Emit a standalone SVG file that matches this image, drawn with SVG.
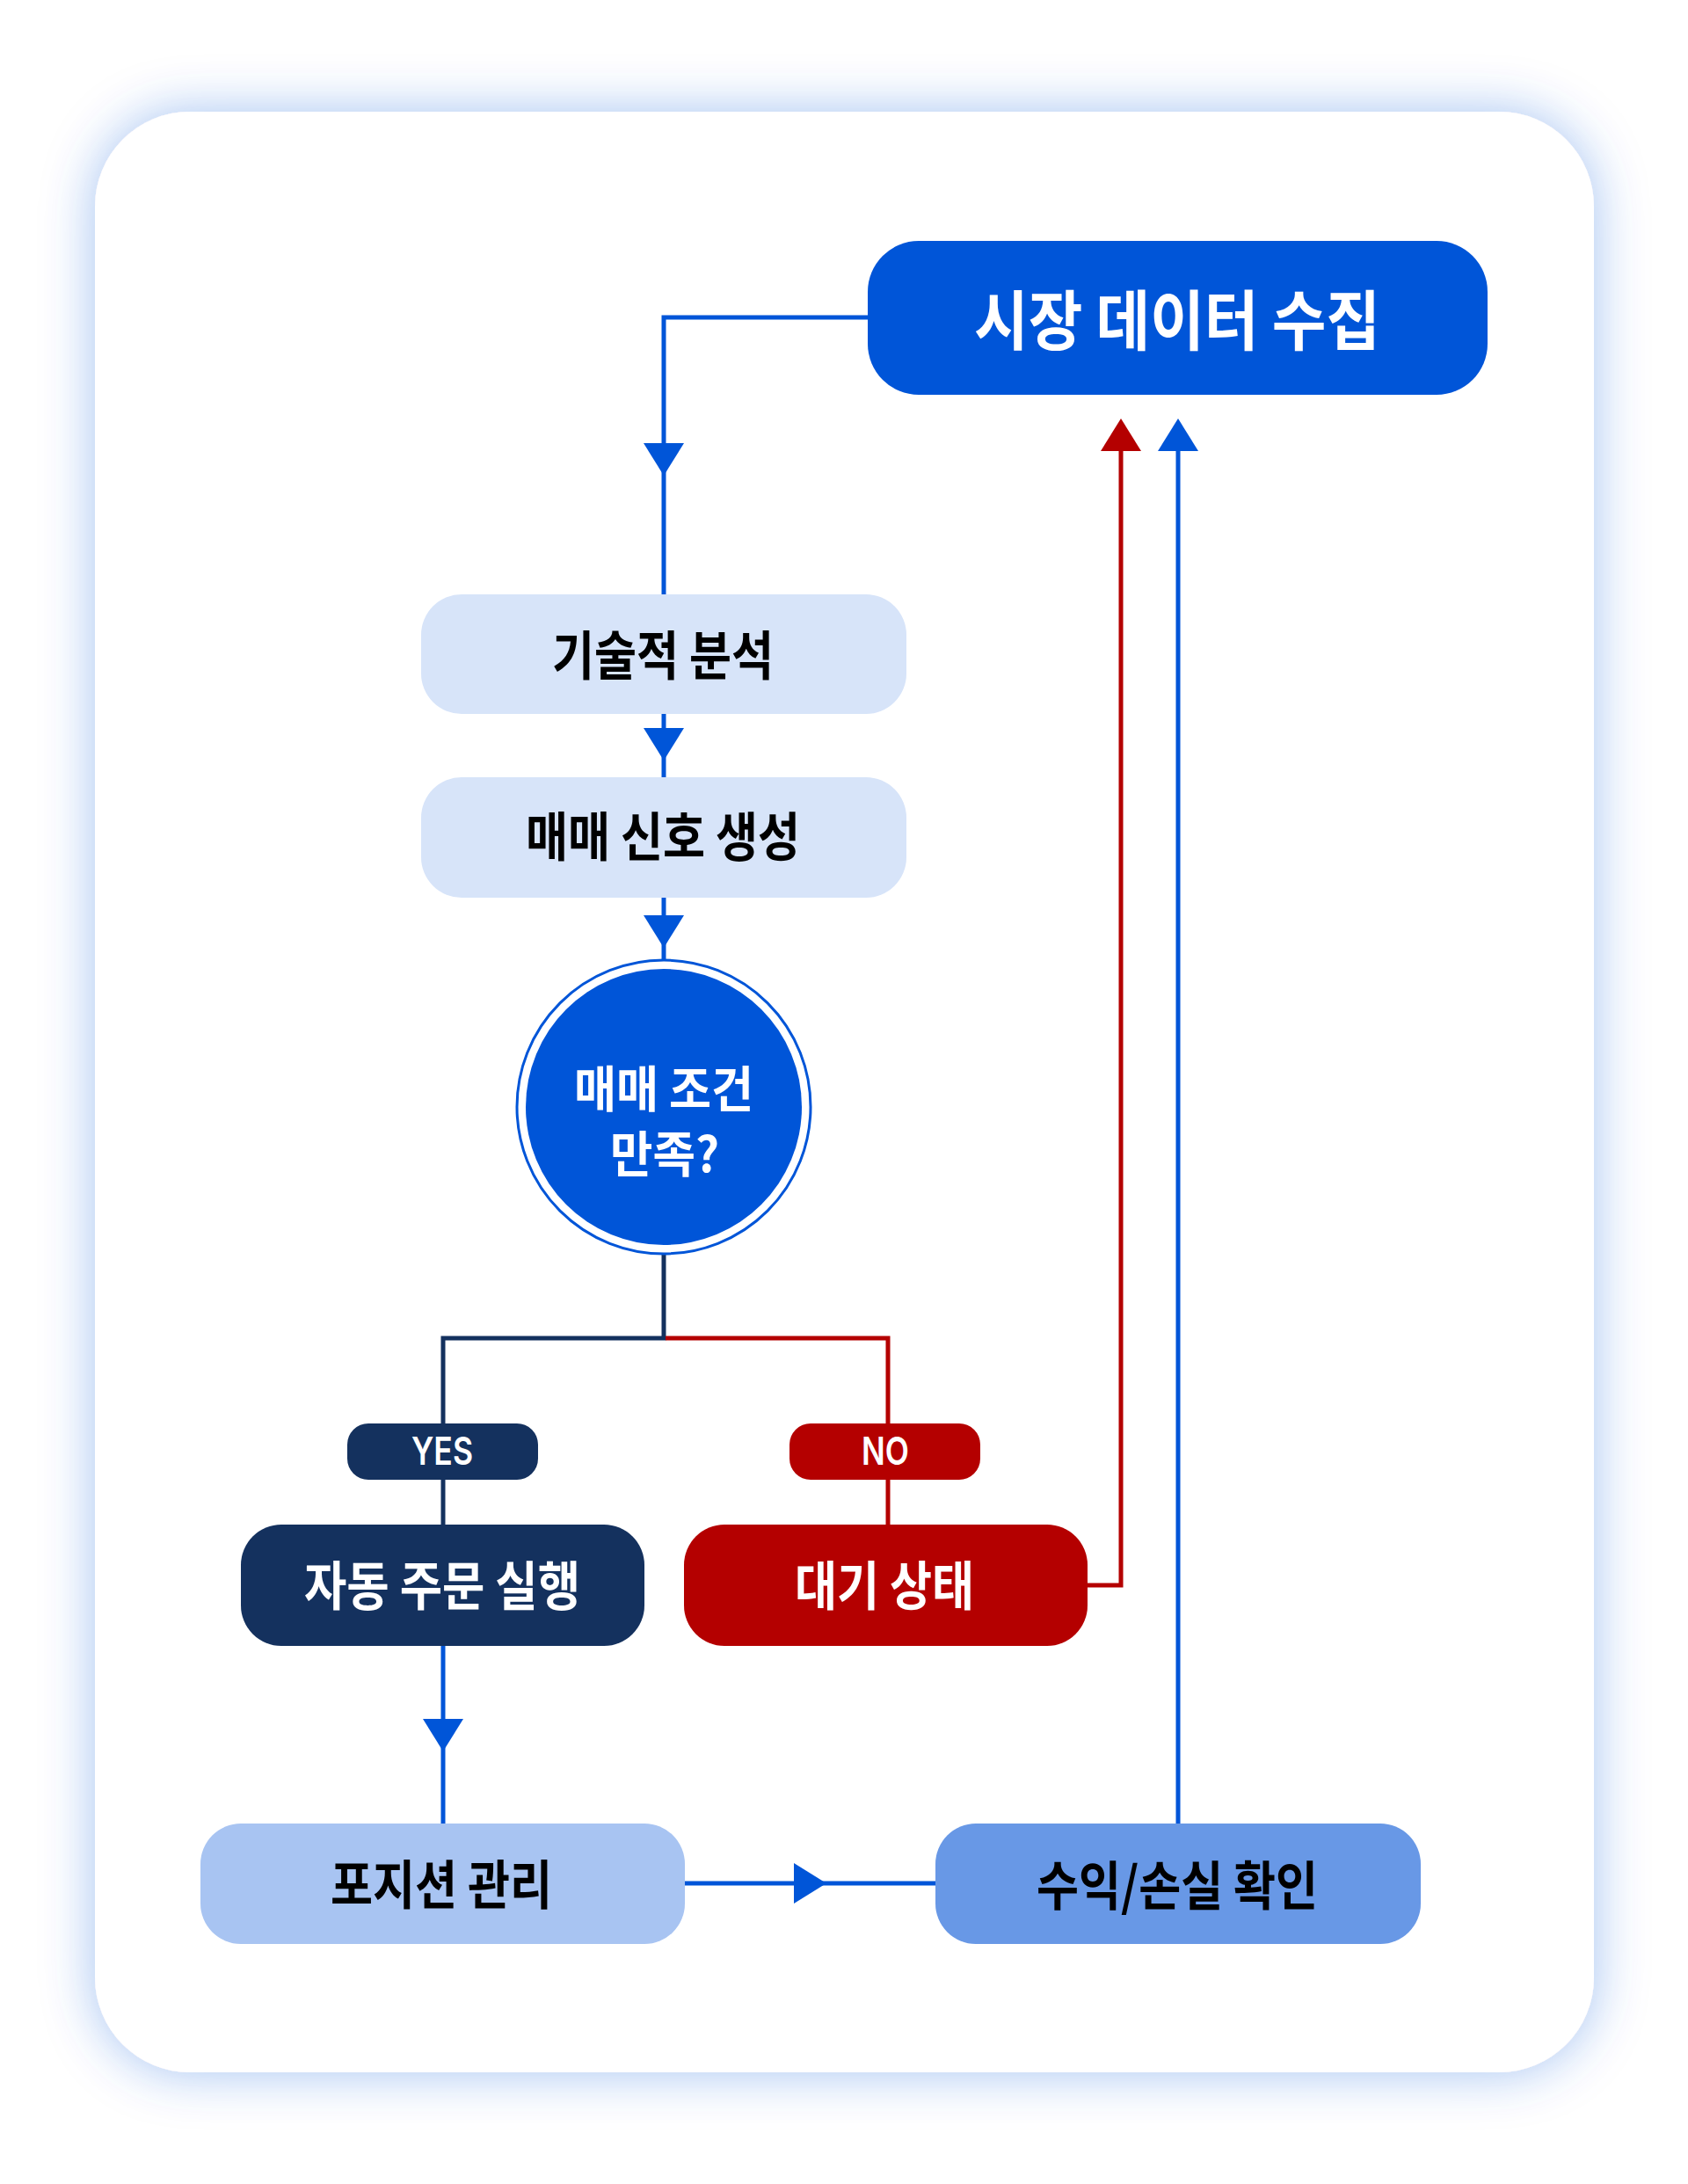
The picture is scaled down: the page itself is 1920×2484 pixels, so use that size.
<svg xmlns="http://www.w3.org/2000/svg" xmlns:xlink="http://www.w3.org/1999/xlink" width="1920" height="2484" viewBox="0 0 1920 2484">
  <style>
    .kr { font-family: "Noto Sans CJK KR", "Noto Sans", sans-serif; font-weight: 700; text-anchor: middle; }
    .en { font-family: Inter, "Liberation Sans", sans-serif; font-weight: 600; text-anchor: middle; fill: #ffffff; }
    .white { fill: #ffffff; }
    .dark { fill: #000000; }
    .conn { fill: none; stroke-width: 5; stroke-linejoin: miter; }
    .blue { stroke: #0055d8; }
    .navy { stroke: #14315e; }
    .red { stroke: #b40000; }
  </style>
  <defs>
    <filter id="glow" x="-20%" y="-20%" width="140%" height="140%">
      <feGaussianBlur in="SourceAlpha" stdDeviation="30" result="b"/>
      <feFlood flood-color="#0055d8" flood-opacity="0.36"/>
      <feComposite in2="b" operator="in" result="s"/>
      <feMerge>
        <feMergeNode in="s"/>
        <feMergeNode in="SourceGraphic"/>
      </feMerge>
    </filter>
    <path id="ah" d="M-23,-37 L23,-37 L0,0 Z"/>
  </defs>

  <rect width="1920" height="2484" fill="#ffffff"/>
  <rect id="card" x="108" y="127" width="1705" height="2230" rx="108" ry="108" fill="#ffffff" filter="url(#glow)"/>

  <g id="connectors">
    <path class="conn blue" d="M987,361 H755 V676"/>
    <use xlink:href="#ah" href="#ah" fill="#0055d8" transform="translate(755,541)"/>
    <path class="conn blue" d="M755,812 V884"/>
    <use xlink:href="#ah" href="#ah" fill="#0055d8" transform="translate(755,865)"/>
    <path class="conn blue" d="M755,1021 V1091"/>
    <use xlink:href="#ah" href="#ah" fill="#0055d8" transform="translate(755,1078)"/>

    <path class="conn navy" d="M755,1427 V1522 H504 V1619"/>
    <path class="conn navy" d="M504,1683 V1734"/>
    <path class="conn red" d="M757,1522 H1010 V1619"/>
    <path class="conn red" d="M1010,1683 V1734"/>

    <path class="conn red" d="M1237,1803 H1275 V510"/>
    <use xlink:href="#ah" href="#ah" fill="#b40000" transform="translate(1275,476) rotate(180)"/>
    <path class="conn blue" d="M1340,2074 V510"/>
    <use xlink:href="#ah" href="#ah" fill="#0055d8" transform="translate(1340,476) rotate(180)"/>

    <path class="conn blue" d="M504,1872 V2074"/>
    <use xlink:href="#ah" href="#ah" fill="#0055d8" transform="translate(504,1992)"/>
    <path class="conn blue" d="M779,2142 H1064"/>
    <use xlink:href="#ah" href="#ah" fill="#0055d8" transform="translate(940,2142) rotate(-90)"/>
  </g>

  <g id="node-collect">
    <rect x="987" y="274" width="705" height="175" rx="58" fill="#0055d8"/>
    <text class="kr white" x="1339" y="392" font-size="74" textLength="462" lengthAdjust="spacingAndGlyphs">시장 데이터 수집</text>
  </g>

  <g id="node-analysis">
    <rect x="479" y="676" width="552" height="136" rx="46" fill="#d7e4f9"/>
    <text class="kr dark" x="754" y="768" font-size="60" textLength="252" lengthAdjust="spacingAndGlyphs">기술적 분석</text>
  </g>

  <g id="node-signal">
    <rect x="479" y="884" width="552" height="137" rx="46" fill="#d7e4f9"/>
    <text class="kr dark" x="754" y="974" font-size="60" textLength="312" lengthAdjust="spacingAndGlyphs">매매 신호 생성</text>
  </g>

  <g id="node-decision">
    <circle cx="755" cy="1259" r="167" fill="#ffffff" stroke="#0055d8" stroke-width="3"/>
    <circle cx="755" cy="1259" r="157" fill="#0055d8"/>
    <text class="kr white" x="755" y="1259" font-size="56" textLength="204" lengthAdjust="spacingAndGlyphs">매매 조건</text>
    <text class="kr white" x="756" y="1333" font-size="56" textLength="124" lengthAdjust="spacingAndGlyphs">만족?</text>
  </g>

  <g id="label-yes">
    <rect x="395" y="1619" width="217" height="64" rx="24" fill="#14315e"/>
    <text class="en" x="503" y="1666" font-size="44" textLength="70" lengthAdjust="spacingAndGlyphs">YES</text>
  </g>

  <g id="label-no">
    <rect x="898" y="1619" width="217" height="64" rx="24" fill="#b40000"/>
    <text class="en" x="1007" y="1666" font-size="44" textLength="54" lengthAdjust="spacingAndGlyphs">NO</text>
  </g>

  <g id="node-execute">
    <rect x="274" y="1734" width="459" height="138" rx="46" fill="#14315e"/>
    <text class="kr white" x="503" y="1826" font-size="60" textLength="314" lengthAdjust="spacingAndGlyphs">자동 주문 실행</text>
  </g>

  <g id="node-wait">
    <rect x="778" y="1734" width="459" height="138" rx="46" fill="#b40000"/>
    <text class="kr white" x="1006" y="1826" font-size="60" textLength="204" lengthAdjust="spacingAndGlyphs">대기 상태</text>
  </g>

  <g id="node-position">
    <rect x="228" y="2074" width="551" height="137" rx="46" fill="#a8c4f2"/>
    <text class="kr dark" x="502" y="2166" font-size="60" textLength="252" lengthAdjust="spacingAndGlyphs">포지션 관리</text>
  </g>

  <g id="node-pnl">
    <rect x="1064" y="2074" width="552" height="137" rx="46" fill="#6898e6"/>
    <text class="kr dark" x="1339" y="2167" font-size="60" textLength="320" lengthAdjust="spacingAndGlyphs">수익/손실 확인</text>
  </g>
</svg>
